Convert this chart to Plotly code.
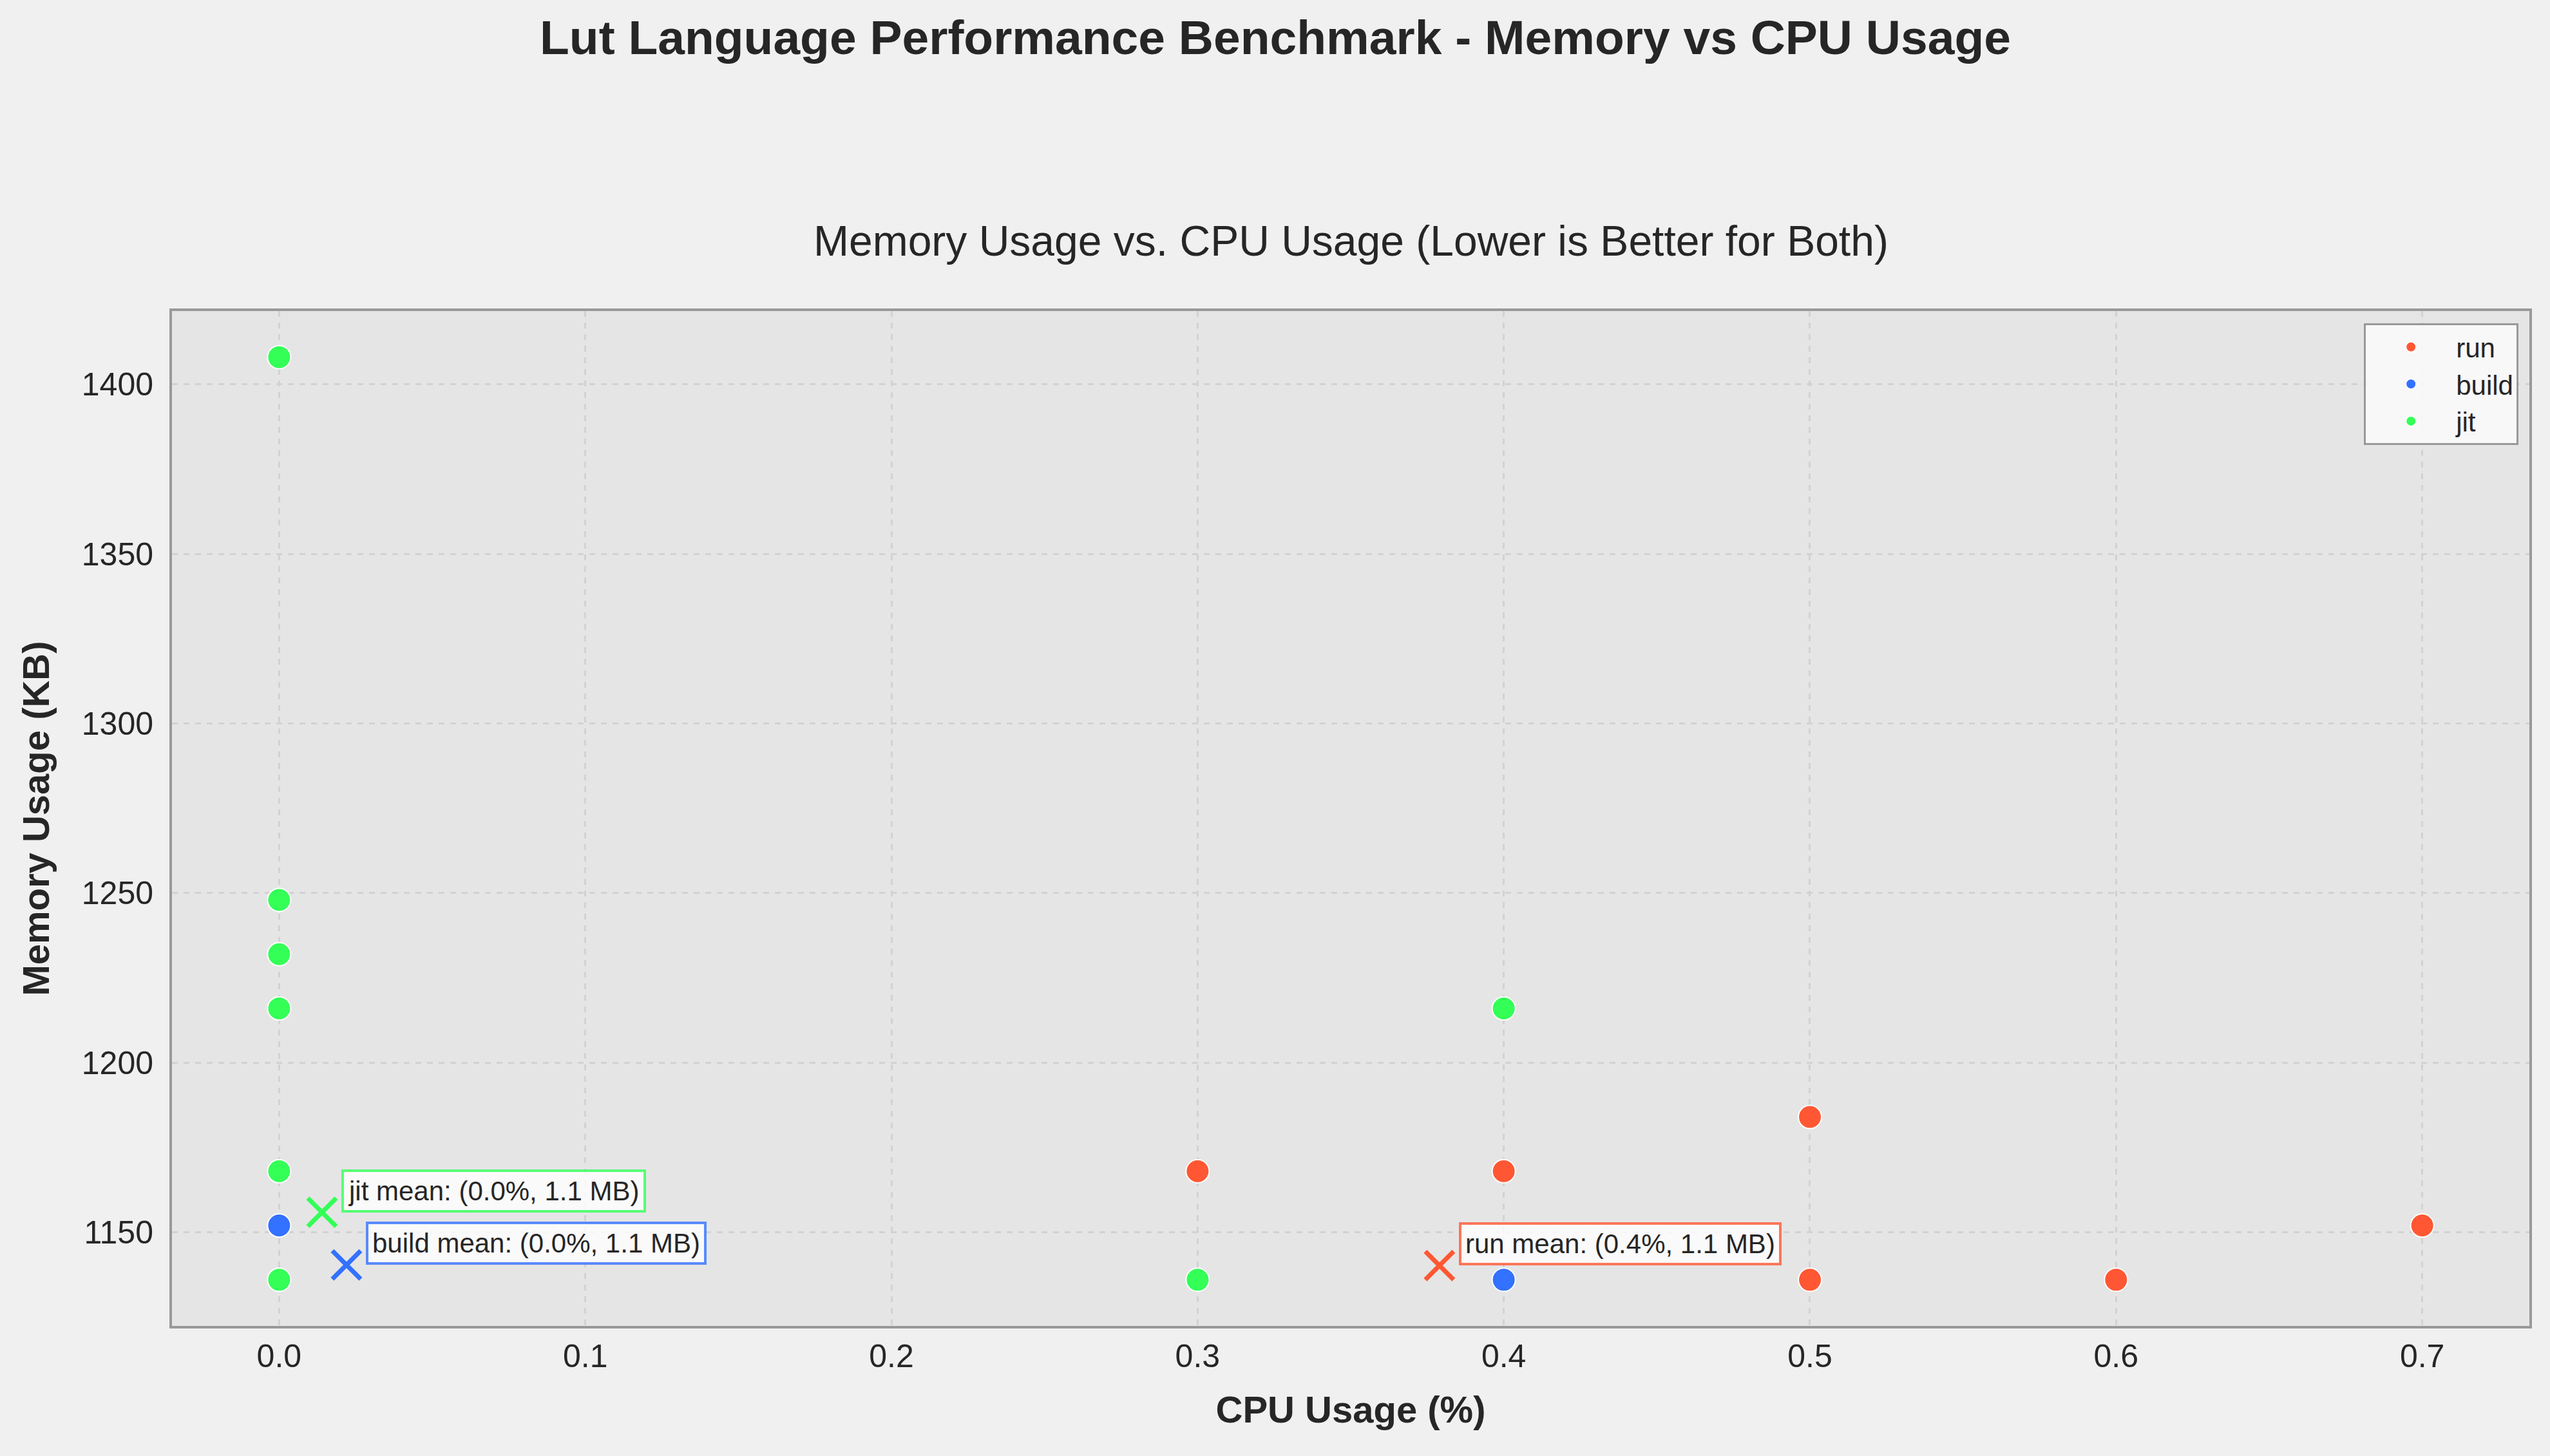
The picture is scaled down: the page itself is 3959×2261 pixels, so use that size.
import plotly.graph_objects as go

# ---- data ----
series_names = ["run", "build", "jit"]
series_colors = ["#FF5733", "#3371FF", "#33FF57"]

run_cpu = [0.3, 0.4, 0.5, 0.5, 0.6, 0.7]
run_mem = [1168, 1168, 1184, 1136, 1136, 1152]

build_cpu = [0.0, 0.4]
build_mem = [1152, 1136]

jit_cpu = [0.0, 0.0, 0.0, 0.0, 0.0, 0.0, 0.3, 0.4]
jit_mem = [1408, 1248, 1232, 1216, 1168, 1136, 1136, 1216]

mean_cpu = [0.379, 0.022, 0.014]
mean_mem = [1140.2, 1140.4, 1155.9]
mean_labels = ["run mean: (0.4%, 1.1 MB)",
               "build mean: (0.0%, 1.1 MB)",
               "jit mean: (0.0%, 1.1 MB)"]

x_ticks = [0.0, 0.1, 0.2, 0.3, 0.4, 0.5, 0.6, 0.7]
y_ticks = [1150, 1200, 1250, 1300, 1350, 1400]

FONT = "Liberation Sans, Arial, Helvetica, sans-serif"
TXT = "#262626"


def rgba(hex_color, a):
    h = hex_color.lstrip("#")
    r, g, b = int(h[0:2], 16), int(h[2:4], 16), int(h[4:6], 16)
    return f"rgba({r},{g},{b},{a})"


fig = go.Figure()

xs = [run_cpu, build_cpu, jit_cpu]
ys = [run_mem, build_mem, jit_mem]
for name, col, x, y in zip(series_names, series_colors, xs, ys):
    fig.add_trace(go.Scatter(
        x=x, y=y, mode="markers", name=name,
        marker=dict(size=36, color=col, line=dict(color="white", width=2)),
    ))

for i, (name, col) in enumerate(zip(series_names, series_colors)):
    fig.add_trace(go.Scatter(
        x=[mean_cpu[i]], y=[mean_mem[i]], mode="markers", showlegend=False,
        marker=dict(symbol="x-thin", size=44, color=col,
                    line=dict(color=col, width=7)),
    ))
    fig.add_annotation(
        x=mean_cpu[i], y=mean_mem[i], xref="x", yref="y",
        text=mean_labels[i], showarrow=False,
        xanchor="left", yanchor="bottom", xshift=30, yshift=0,
        font=dict(family=FONT, size=42, color=TXT),
        bgcolor="rgba(255,255,255,0.8)",
        bordercolor=rgba(col, 0.8), borderwidth=4, borderpad=6,
    )

# titles
fig.add_annotation(
    text="<b>Lut Language Performance Benchmark - Memory vs CPU Usage</b>",
    xref="paper", yref="paper", x=0.5 - (267 - 32) / 2 / 3660, y=1 + (483 - 58) / 1576,
    xanchor="center", yanchor="middle", showarrow=False,
    font=dict(family=FONT, size=75, color=TXT),
)
fig.add_annotation(
    text="Memory Usage vs. CPU Usage (Lower is Better for Both)",
    xref="paper", yref="paper", x=0.5, y=1 + (483 - 374) / 1576,
    xanchor="center", yanchor="middle", showarrow=False,
    font=dict(family=FONT, size=66, color=TXT),
)

axis_common = dict(
    showgrid=True, gridcolor="#d2d2d2", gridwidth=3, griddash="dash",
    showline=True, linecolor="#999999", linewidth=4, mirror=True,
    zeroline=False, ticks="", tickfont=dict(family=FONT, size=50, color=TXT),
)

fig.update_xaxes(
    range=[-0.035, 0.735], tickvals=x_ticks, tickformat=".1f",
    title=dict(text="<b>CPU Usage (%)</b>", font=dict(family=FONT, size=58, color=TXT),
               standoff=36),
    **axis_common,
)
fig.update_yaxes(
    range=[1122.4, 1421.6], tickvals=y_ticks, ticklabelstandoff=15,
    title=dict(text="<b>Memory Usage (KB)</b>", font=dict(family=FONT, size=58, color=TXT),
               standoff=32),
    **axis_common,
)

fig.update_layout(
    width=3959, height=2261,
    margin=dict(l=267, r=32, t=483, b=202),
    paper_bgcolor="#F0F0F0", plot_bgcolor="#E5E5E5",
    font=dict(family=FONT, color=TXT),
    legend=dict(
        x=0.9954, y=0.988, xanchor="right", yanchor="top",
        bgcolor="rgba(250,250,250,0.9)", bordercolor="#999999", borderwidth=3,
        font=dict(family=FONT, size=42, color=TXT),
        itemsizing="trace", itemwidth=130,
    ),
)

fig.write_html("out.html")
